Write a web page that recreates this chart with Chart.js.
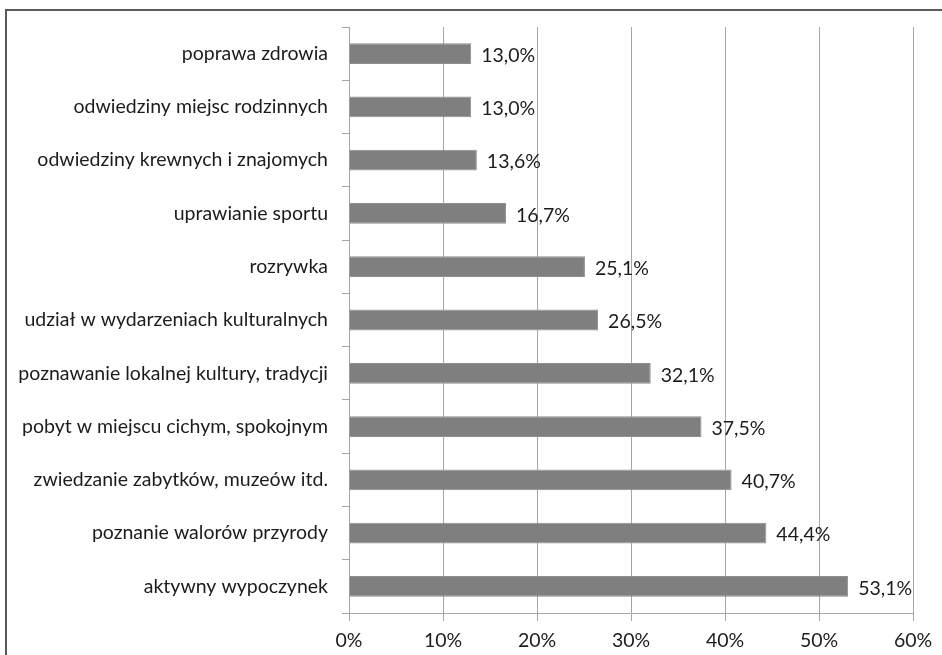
<!DOCTYPE html>
<html>
<head>
<meta charset="utf-8">
<script src="https://cdn.jsdelivr.net/npm/chart.js@4/dist/chart.umd.min.js"></script>
<style>
  html, body { margin: 0; padding: 0; background: #fff; overflow: hidden; }
  #frame {
    position: absolute; left: 5px; top: 9px; width: 960px; height: 680px;
    border-top: 2px solid #5a5a5a; border-left: 2px solid #5a5a5a;
  }
  #wrap { position: absolute; left: 0; top: 0; width: 942px; height: 655px; }
</style>
</head>
<body>
<div id="frame"></div>
<div id="wrap"><canvas id="chart" width="942" height="655"></canvas></div>
<script>
const categories = [
  "poprawa zdrowia",
  "odwiedziny miejsc rodzinnych",
  "odwiedziny krewnych i znajomych",
  "uprawianie sportu",
  "rozrywka",
  "udział w wydarzeniach kulturalnych",
  "poznawanie lokalnej kultury, tradycji",
  "pobyt w miejscu cichym, spokojnym",
  "zwiedzanie zabytków, muzeów itd.",
  "poznanie walorów przyrody",
  "aktywny wypoczynek",
]
const shares = [13.0, 13.0, 13.6, 16.7, 25.1, 26.5, 32.1, 37.5, 40.7, 44.4, 53.1]
const xTicks = [0, 10, 20, 30, 40, 50, 60]

const FONT = "Lato, 'Open Sans', sans-serif"
const TEXT = "#1c1c1c"
const fmt = (v) => v.toFixed(1).replace(".", ",") + "%"

// value labels drawn just past the end of each bar
const valueLabels = {
  id: "valueLabels",
  afterDatasetsDraw(chart) {
    const { ctx } = chart
    const meta = chart.getDatasetMeta(0)
    ctx.save()
    ctx.font = "19.5px " + FONT
    ctx.fillStyle = TEXT
    ctx.textAlign = "left"
    ctx.textBaseline = "middle"
    meta.data.forEach((bar, i) => {
      ctx.fillText(fmt(shares[i]), bar.x + 10, bar.y + 2)
    })
    ctx.restore()
  },
}

new Chart(document.getElementById("chart"), {
  type: "bar",
  data: {
    labels: categories,
    datasets: [
      {
        data: shares,
        backgroundColor: "#7f7f7f",
        borderColor: "#8e8e8e",
        borderWidth: 1,
        barPercentage: 0.39,
        categoryPercentage: 1,
      },
    ],
  },
  options: {
    indexAxis: "y",
    responsive: false,
    animation: false,
    layout: { padding: { left: 0, top: 27, right: 29, bottom: 0 } },
    plugins: { legend: { display: false }, tooltip: { enabled: false } },
    scales: {
      x: {
        min: 0,
        max: 60,
        afterBuildTicks(scale) {
          scale.ticks = xTicks.map((v) => ({ value: v }))
        },
        afterFit(scale) {
          scale.height = 42
        },
        ticks: {
          callback: (v) => v + "%",
          color: TEXT,
          font: { family: FONT, size: 19.5 },
          padding: 8,
          maxRotation: 0,
        },
        grid: { color: "#a6a6a6", tickLength: 8, lineWidth: 1 },
        border: { color: "#a6a6a6" },
      },
      y: {
        afterFit(scale) {
          scale.width = 349
        },
        ticks: {
          color: TEXT,
          font: { family: FONT, size: 19.5 },
          padding: 14,
        },
        grid: { offset: true, drawOnChartArea: false, color: "#a6a6a6", tickLength: 7 },
        border: { color: "#a6a6a6" },
      },
    },
  },
  plugins: [valueLabels],
})
</script>
</body>
</html>
